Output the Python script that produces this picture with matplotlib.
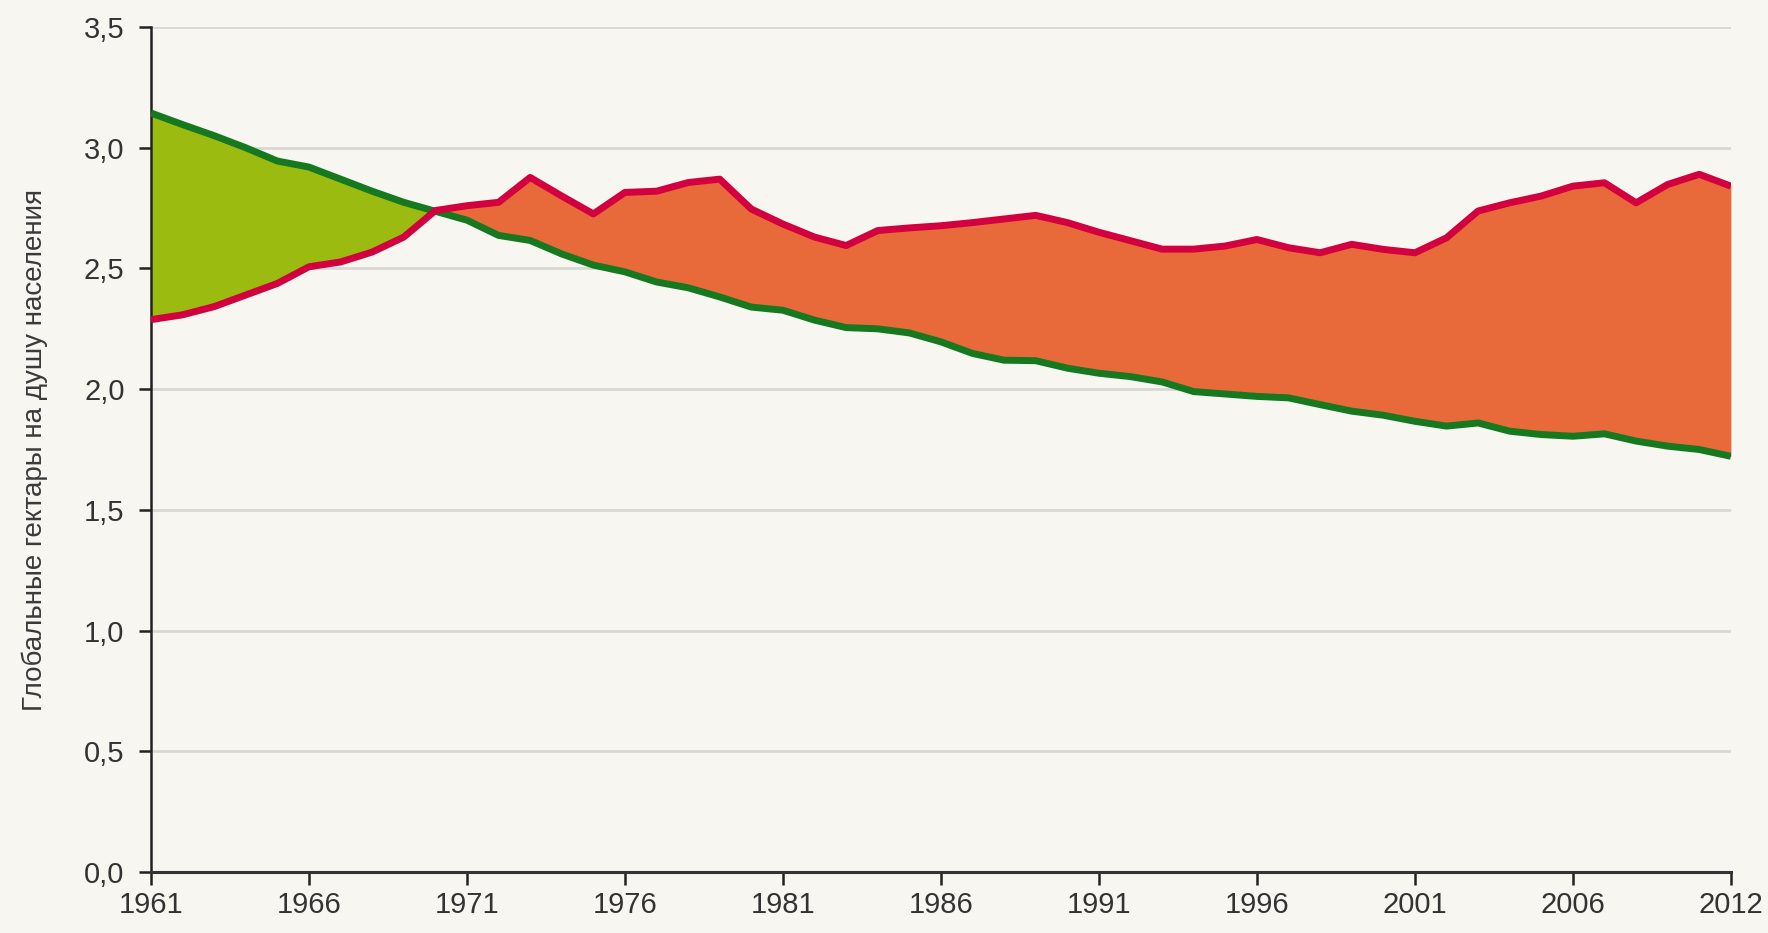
import matplotlib
matplotlib.use("Agg")
import matplotlib.pyplot as plt
import numpy as np
from matplotlib import font_manager

names = {f.name for f in font_manager.fontManager.ttflist}
fam = [n for n in ["Liberation Sans Narrow", "Liberation Sans", "DejaVu Sans"] if n in names]
plt.rcParams['font.family'] = fam

# tick labels (51 yearly points, last label as printed in the source)
tick_labels = ["1961", "1966", "1971", "1976", "1981", "1986", "1991", "1996", "2001", "2006", "2012"]

biocapacity = [3.144, 3.096, 3.05, 3.0, 2.945, 2.92, 2.87, 2.82, 2.774, 2.737,
               2.70, 2.637, 2.616, 2.56, 2.514, 2.486, 2.444, 2.42, 2.382, 2.34,
               2.327, 2.286, 2.255, 2.25, 2.233, 2.196, 2.148, 2.12, 2.118, 2.087,
               2.066, 2.052, 2.03, 1.99, 1.98, 1.97, 1.964, 1.936, 1.909, 1.892,
               1.867, 1.847, 1.86, 1.826, 1.812, 1.805, 1.815, 1.785, 1.764, 1.75,
               1.722]

footprint = [2.288, 2.308, 2.342, 2.39, 2.438, 2.507, 2.527, 2.568, 2.63, 2.74,
             2.76, 2.774, 2.877, 2.80, 2.726, 2.815, 2.82, 2.856, 2.87, 2.746,
             2.684, 2.63, 2.595, 2.657, 2.668, 2.677, 2.69, 2.705, 2.72, 2.69,
             2.65, 2.615, 2.58, 2.58, 2.593, 2.62, 2.586, 2.565, 2.60, 2.579,
             2.565, 2.627, 2.738, 2.772, 2.80, 2.841, 2.855, 2.772, 2.848, 2.89,
             2.841]

bg = "#f7f6f1"
fig = plt.figure(figsize=(17.68, 9.33), dpi=100, facecolor=bg)
ax = fig.add_axes([0.0854, 0.0654, 0.979 - 0.0854, 0.971 - 0.0654], facecolor=bg)

x = np.arange(len(biocapacity))
bio = np.array(biocapacity)
fp = np.array(footprint)

# fine resampling of the straight segments so the two fills meet exactly at the crossing
xf = np.linspace(0, len(x) - 1, 2001)
bf = np.interp(xf, x, bio)
ff = np.interp(xf, x, fp)

ax.fill_between(xf, ff, bf, where=bf >= ff, color="#9bbb10", linewidth=0, zorder=2)
ax.fill_between(xf, bf, ff, where=ff >= bf, color="#e8693a", linewidth=0, zorder=2)
ax.plot(x, bio, color="#16791f", linewidth=5, solid_capstyle="butt",
        solid_joinstyle="round", zorder=3)
ax.plot(x, fp, color="#d3003f", linewidth=5, solid_capstyle="butt",
        solid_joinstyle="round", zorder=4)

ax.set_xlim(0, len(x) - 1)
ax.set_ylim(0, 3.5)
yt = np.arange(0, 3.51, 0.5)
ax.set_yticks(yt)
ax.set_yticklabels([f"{v:.1f}".replace(".", ",") for v in yt])
ax.set_xticks(np.arange(0, len(x), 5))
ax.set_xticklabels(tick_labels)

ax.grid(axis="y", color="#d8d8d4", linewidth=2, zorder=0)
ax.set_axisbelow(True)
for s in ["top", "right"]:
    ax.spines[s].set_visible(False)
ax.spines["left"].set_color("#222222")
ax.spines["bottom"].set_color("#333333")
ax.spines["left"].set_linewidth(1.8)
ax.spines["bottom"].set_linewidth(2.2)
ax.tick_params(axis="both", direction="out", length=9, width=1.8, colors="#222222",
               labelsize=21, labelcolor="#333333")
ax.tick_params(axis="y", pad=10)
ax.tick_params(axis="x", pad=5)
ax.margins(x=0)

ax.set_ylabel("Глобальные гектары на душу населения", fontsize=20, color="#3a3a3a", labelpad=26)

fig.savefig("out.png", dpi=100, facecolor=bg)
